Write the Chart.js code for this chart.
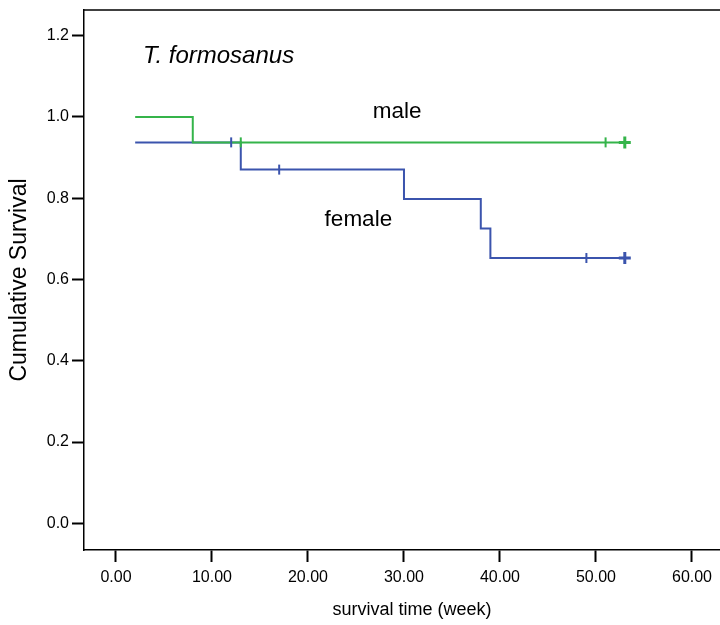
<!DOCTYPE html>
<html><head><meta charset="utf-8">
<style>html,body{margin:0;padding:0;overflow:hidden;background:#fff;width:720px;height:625px}canvas{display:block}</style>
<script src="https://cdn.jsdelivr.net/npm/chart.js@4/dist/chart.umd.min.js"></script>
</head><body>
<canvas id="c" width="740" height="625"></canvas>
<script>
// Kaplan-Meier data (time in weeks, cumulative survival)
const maleTimes = [2, 8, 53];
const maleSurvival = [1.0, 0.9375, 0.9375];
const maleCensored = [13, 51, 53];
const femaleTimes = [2, 13, 30, 38, 39, 53];
const femaleSurvival = [0.9375, 0.8705, 0.7980, 0.7254, 0.6529, 0.6529];
const femaleCensored = [12, 17, 49, 53];
const xTicks = [0, 10, 20, 30, 40, 50, 60];
const yTicks = [0.0, 0.2, 0.4, 0.6, 0.8, 1.0, 1.2];
const groupNames = ['male', 'female'];
const panelTitle = 'T. formosanus';

const FONT = "'Liberation Sans', Arial, Helvetica, sans-serif";
const GREEN = '#35b44a';
const BLUE = '#3b54ad';

function survAt(times, surv, t) {
  let v = surv[0];
  for (let i = 0; i < times.length; i++) if (times[i] <= t) v = surv[i];
  return v;
}
function stepData(times, surv) { return times.map((t, i) => ({x: t, y: surv[i]})); }
function censorData(times, surv, cens) { return cens.map(t => ({x: t, y: survAt(times, surv, t)})); }

function censorDataset(times, surv, cens, color, order) {
  const last = Math.max(...times);
  return {
    data: censorData(times, surv, cens),
    showLine: false,
    borderColor: color,
    backgroundColor: color,
    pointStyle: c => (c.raw && c.raw.x === last) ? 'cross' : 'line',
    pointRotation: 90,
    pointRadius: c => (c.raw && c.raw.x === last) ? 6 : 5,
    pointBorderWidth: c => (c.raw && c.raw.x === last) ? 3 : 2,
    pointBorderColor: color,
    pointHoverRadius: 0,
    order: order
  };
}

const annotations = [
  {text: panelTitle, x: 2.81, y: 1.1336, align: 'left', font: 'italic 24px ' + FONT},
  {text: groupNames[0], x: 29.29, y: 0.998, align: 'center', font: '22.5px ' + FONT},
  {text: groupNames[1], x: 25.25, y: 0.7305, align: 'center', font: '22.5px ' + FONT}
];

const textPlugin = {
  id: 'texts',
  afterDraw(chart) {
    const ctx = chart.ctx, xs = chart.scales.x, ys = chart.scales.y, a = chart.chartArea;
    ctx.save();
    // top frame line
    ctx.strokeStyle = '#000';
    ctx.lineWidth = 1.5;
    ctx.beginPath();
    ctx.moveTo(a.left, a.top);
    ctx.lineTo(a.right, a.top);
    ctx.stroke();
    ctx.fillStyle = '#000';
    ctx.textBaseline = 'alphabetic';
    annotations.forEach(t => {
      ctx.font = t.font;
      ctx.textAlign = t.align;
      ctx.fillText(t.text, xs.getPixelForValue(t.x), ys.getPixelForValue(t.y));
    });
    ctx.restore();
  }
};

new Chart(document.getElementById('c'), {
  type: 'line',
  data: {
    datasets: [
      censorDataset(maleTimes, maleSurvival, maleCensored, GREEN, 0),
      censorDataset(femaleTimes, femaleSurvival, femaleCensored, BLUE, 0),
      {label: groupNames[0], data: stepData(maleTimes, maleSurvival), stepped: 'before', borderColor: GREEN,
       borderWidth: 2, pointRadius: 0, fill: false, order: 1},
      {label: groupNames[1], data: stepData(femaleTimes, femaleSurvival), stepped: 'before', borderColor: BLUE,
       borderWidth: 2, pointRadius: 0, fill: false, order: 2}
    ]
  },
  options: {
    responsive: false,
    animation: false,
    events: [],
    layout: {autoPadding: false, padding: {top: 10, left: 0, right: 0, bottom: 0}},
    plugins: {legend: {display: false}, tooltip: {enabled: false}},
    scales: {
      x: {
        type: 'linear', min: -3.33, max: 65.0,
        afterBuildTicks: s => { s.ticks = xTicks.map(v => ({value: v})); },
        afterFit: s => { s.height = 75; s.paddingLeft = 0; s.paddingRight = 0; },
        ticks: {callback: v => Number(v).toFixed(2), font: {family: FONT, size: 16}, color: '#000',
                padding: 6, maxRotation: 0, autoSkip: false},
        grid: {display: true, drawOnChartArea: false, drawTicks: true, tickLength: 12, tickWidth: 2,
               tickColor: '#000', color: '#000'},
        border: {display: true, color: '#000', width: 1.5},
        title: {display: true, text: 'survival time (week)', font: {family: FONT, size: 18}, color: '#000',
                padding: {top: 0, bottom: 4}}
      },
      y: {
        type: 'linear', min: -0.0657, max: 1.2633,
        afterBuildTicks: s => { s.ticks = yTicks.map(v => ({value: v})); },
        afterFit: s => { s.width = 84; s.paddingTop = 0; s.paddingBottom = 0; },
        ticks: {callback: v => Number(v).toFixed(1), font: {family: FONT, size: 16}, color: '#000', padding: 3},
        grid: {display: true, drawOnChartArea: false, drawTicks: true, tickLength: 12, tickWidth: 2,
               tickColor: '#000', color: '#000'},
        border: {display: true, color: '#000', width: 1.5},
        title: {display: true, text: 'Cumulative Survival', font: {family: FONT, size: 23}, color: '#000',
                padding: {top: 6, bottom: 0}}
      }
    }
  },
  plugins: [textPlugin]
});
</script>
</body></html>
